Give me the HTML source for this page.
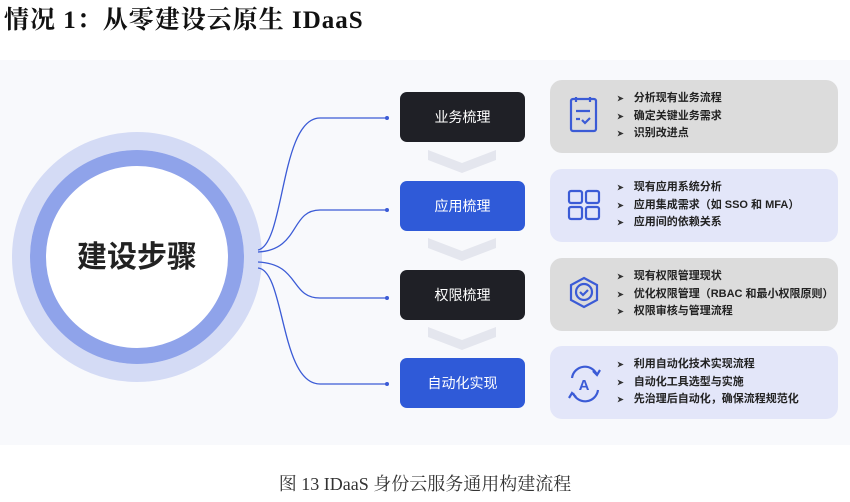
<!DOCTYPE html>
<html><head><meta charset="utf-8"><style>
body{margin:0;width:850px;height:502px;background:#fff;position:relative;overflow:hidden;font-family:"Liberation Sans","Noto Sans CJK SC",sans-serif}
.t{position:absolute;left:4px;top:0px;font:bold 25px "Liberation Serif","Noto Serif CJK SC",serif;color:#111;letter-spacing:1px}
.bg{position:absolute;left:0;top:60px;width:850px;height:385px;background:#f8f9fc}
.btn{position:absolute;left:400px;width:125px;height:50px;border-radius:7px;color:#fff;font-size:14px;display:flex;align-items:center;justify-content:center}
.card{position:absolute;left:550px;width:288px;height:73px;border-radius:12px}
.card ul{position:absolute;left:67px;top:10px;margin:0;padding:0;list-style:none;font-size:11px;color:#222;line-height:17.5px;white-space:nowrap;font-weight:bold}
.card li:before{content:"➤";font-size:8px;margin-right:10px;color:#333}
.cap{position:absolute;top:470px;left:0;width:850px;text-align:center;font:18px "Liberation Serif","Noto Serif CJK SC",serif;color:#333}
</style></head><body>
<div class="t">情况 1：从零建设云原生 IDaaS</div>
<div class="bg"></div>
<svg style="position:absolute;left:0;top:0" width="850" height="502">
<circle cx="137" cy="257" r="116" fill="none" stroke="#d4dbf5" stroke-width="18"/>
<circle cx="137" cy="257" r="99" fill="#fff" stroke="#8fa3ea" stroke-width="16"/>
<text x="137" y="267" text-anchor="middle" font-size="30" font-weight="bold" fill="#222" font-family="Noto Sans CJK SC,sans-serif">建设步骤</text>
<g fill="none" stroke="#3b5bd6" stroke-width="1.3">
<path d="M258 250 C285 245 280 118 320 118 L387 118"/>
<path d="M258 252 C300 250 290 210 320 210 L387 210"/>
<path d="M258 262 C300 264 290 298 320 298 L387 298"/>
<path d="M258 268 C285 270 280 384 320 384 L387 384"/>
</g>
<g fill="#3b5bd6"><circle cx="387" cy="118" r="2"/><circle cx="387" cy="210" r="2"/><circle cx="387" cy="298" r="2"/><circle cx="387" cy="384" r="2"/></g>
<g fill="#e4e6ee"><path d="M428 150 L462 163 L496 150 L496 160 L462 173 L428 160Z"/><path d="M428 238 L462 251 L496 238 L496 248 L462 261 L428 248Z"/><path d="M428 327 L462 340 L496 327 L496 337 L462 350 L428 337Z"/></g>
</svg>
<div class="btn" style="top:92px;background:#1f2026">业务梳理</div>
<div class="btn" style="top:181px;background:#2f5ad8">应用梳理</div>
<div class="btn" style="top:270px;background:#1f2026">权限梳理</div>
<div class="btn" style="top:358px;background:#2f5ad8">自动化实现</div>
<div class="card" style="top:80px;background:#dcdcdc"><ul><li>分析现有业务流程</li><li>确定关键业务需求</li><li>识别改进点</li></ul></div>
<div class="card" style="top:169px;background:#e3e6f9"><ul><li>现有应用系统分析</li><li>应用集成需求（如 SSO 和 MFA）</li><li>应用间的依赖关系</li></ul></div>
<div class="card" style="top:258px;background:#dcdcdc"><ul><li>现有权限管理现状</li><li>优化权限管理（RBAC 和最小权限原则）</li><li>权限审核与管理流程</li></ul></div>
<div class="card" style="top:346px;background:#e3e6f9"><ul><li>利用自动化技术实现流程</li><li>自动化工具选型与实施</li><li>先治理后自动化，确保流程规范化</li></ul></div>
<svg style="position:absolute;left:565px;top:95px" width="40" height="320" fill="none" stroke="#3b5bd6" stroke-width="2.2">
<rect x="6" y="4" width="25" height="32" rx="2"/><path d="M11 2v5M25 2v5M11 16h14M11 24h4M17 25l3 3 5-5"/>
<rect x="4" y="96" width="13" height="12" rx="2"/><rect x="21" y="96" width="13" height="12" rx="2"/><rect x="4" y="112" width="13" height="12" rx="2"/><rect x="21" y="112" width="13" height="12" rx="2"/>
<path d="M19 183 L32 190 L32 205 L19 212 L6 205 L6 190Z"/><circle cx="19" cy="197" r="8"/><path d="M15 197l3 3 5-5"/>
<path d="M7 283 A13 13 0 0 1 32 280 M33 295 A13 13 0 0 1 8 298"/><path d="M28 276l4 4 3-5M11 302l-4-4-3 5"/>
<text x="19" y="295" text-anchor="middle" font-size="15" font-weight="bold" fill="#3b5bd6" stroke="none" font-family="Liberation Sans">A</text>
</svg>
<div class="cap">图 13 IDaaS 身份云服务通用构建流程</div>
</body></html>
